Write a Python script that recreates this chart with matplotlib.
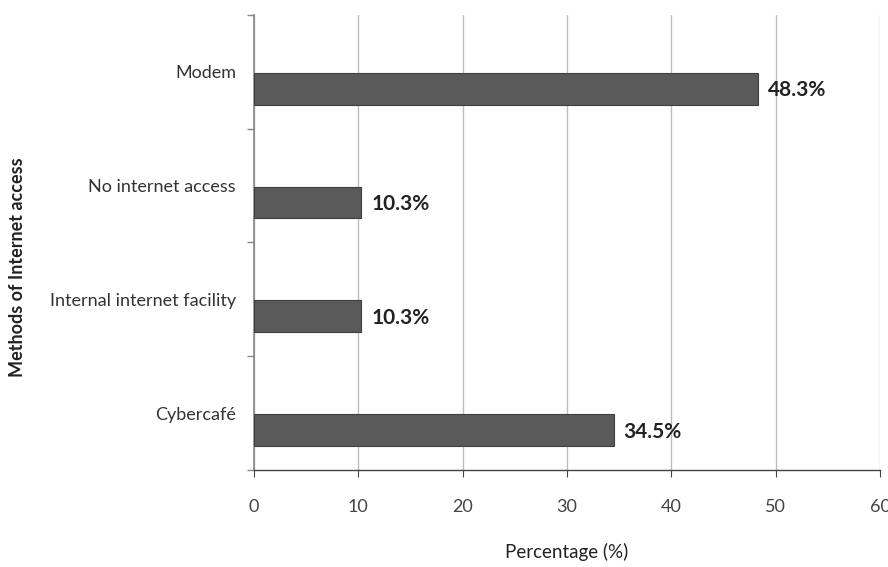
import numpy as np
import matplotlib.pyplot as plt

# data, bottom to top
categories = ["Cybercafé", "Internal internet facility", "No internet access", "Modem"]
percentages = [34.5, 10.3, 10.3, 48.3]
value_labels = ["34.5%", "10.3%", "10.3%", "48.3%"]

plt.rcParams["font.family"] = ["Lato", "DejaVu Sans"]

fig = plt.figure(figsize=(8.88, 5.67), dpi=100)
ax = fig.add_axes([0.286, 0.171, 0.705, 0.803])

y = np.arange(len(categories))
# bars sit a bit below the category centre, like an Excel clustered bar
ax.barh(y - 0.15, percentages, height=0.28, color="#5a5a5a",
        edgecolor="#3f3f3f", linewidth=0.8, zorder=3)

for yi, val, lab in zip(y, percentages, value_labels):
    ax.annotate(lab, (val, yi - 0.15), xytext=(7, -1), textcoords="offset points",
                va="center", ha="left", fontsize=15, fontweight="bold",
                color="#222222")

ax.set_xlim(0, 60)
ax.set_ylim(-0.5, len(categories) - 0.5)
ax.set_xticks(np.arange(0, 61, 10))
ax.set_yticks(y)
ax.set_yticklabels(categories)
ax.set_yticks(np.arange(-0.5, len(categories), 1.0), minor=True)

ax.tick_params(axis="y", which="major", length=0, pad=13, labelsize=13,
               labelcolor="#333333")
ax.tick_params(axis="y", which="minor", length=5, direction="out",
               color="#888888", width=1)
ax.tick_params(axis="x", length=5, direction="out", pad=16, labelsize=13,
               labelcolor="#444444", color="#444444")

ax.grid(axis="x", color="#bdbdbd", linewidth=1, zorder=0)
for s in ["top", "right"]:
    ax.spines[s].set_visible(False)
ax.spines["left"].set_color("#888888")
ax.spines["left"].set_linewidth(1.2)
ax.spines["bottom"].set_color("#444444")
ax.spines["bottom"].set_linewidth(1)

ax.set_xlabel("Percentage (%)", fontsize=13.5, labelpad=20, color="#222222")
ax.set_ylabel("Methods of Internet access", fontsize=13, fontweight="bold",
              color="#222222")
ax.yaxis.set_label_coords(-0.364, 0.445)

plt.savefig("out.png", dpi=100)
